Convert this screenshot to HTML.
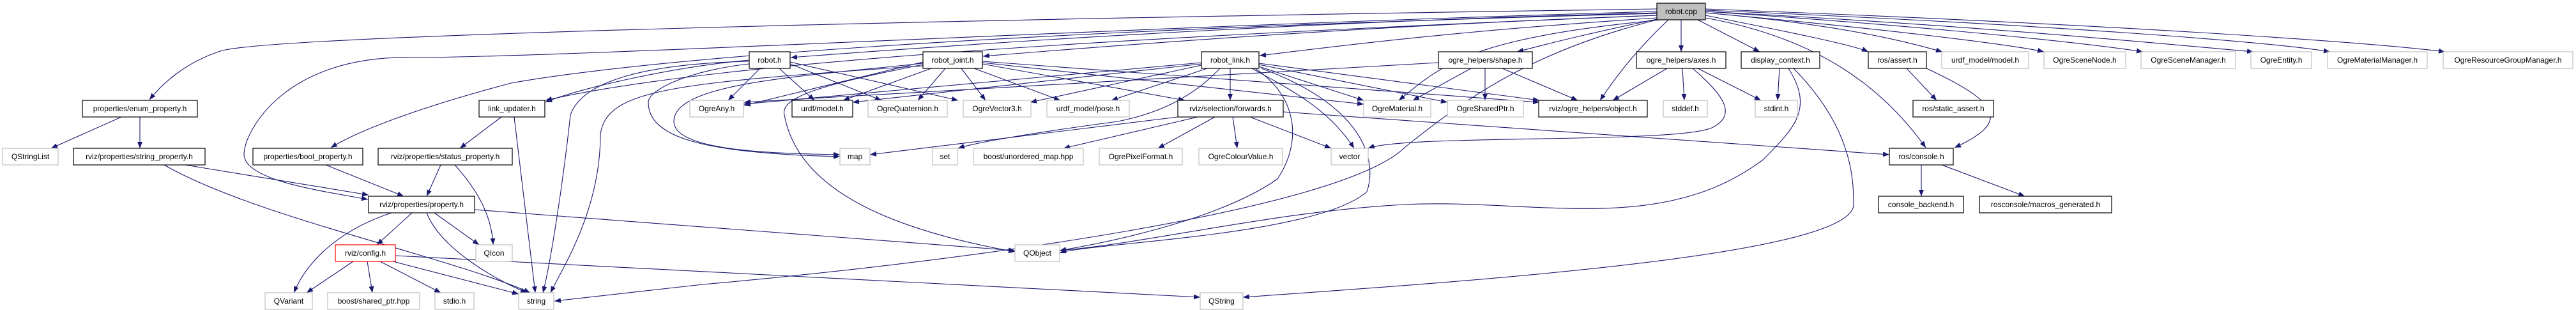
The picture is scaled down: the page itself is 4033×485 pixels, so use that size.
<!DOCTYPE html>
<html><head><meta charset="utf-8"><style>
html,body{margin:0;padding:0;background:#fff;width:4033px;height:485px;overflow:hidden}
svg{display:block}
text{font-family:"Liberation Sans",sans-serif;font-size:12px;fill:#000}
.b{fill:#fff;stroke:#000;stroke-width:1.2}
.g{fill:#fff;stroke:#bfbfbf;stroke-width:1.2}
.r{fill:#fff;stroke:#ff0000;stroke-width:1.2}
.e path{fill:none;stroke:#191970;stroke-width:1.1;marker-end:url(#a)}
</style></head><body>
<svg width="4033" height="485" viewBox="0 0 4033 485" xmlns="http://www.w3.org/2000/svg">
<defs><marker id="a" markerUnits="userSpaceOnUse" markerWidth="11" markerHeight="8" refX="10" refY="4" orient="auto"><path d="M0,0 L10,4 L0,8 z" fill="#191970"/></marker></defs>
<g class="e">
<!-- robot.cpp -->
<path d="M2594,14 C1500,30 420,55 345,80 C290,98 255,130 234,156"/>
<path d="M2594,18 C1800,40 900,90 640,90 C450,88 385,200 382,240 C380,282 500,298 576,312"/>
<path d="M2594,21 C1500,50 1000,95 800,130 C650,170 560,205 518,231"/>
<path d="M2594,24 C1700,60 1100,100 854,157"/>
<path d="M2594,20 C2000,35 1500,70 1238,90"/>
<path d="M2594,24 C2100,42 1700,75 1539,88"/>
<path d="M2594,28 C2250,50 2050,78 1972,87"/>
<path d="M2600,31 C2300,60 2260,100 2190,157"/>
<path d="M2594,30 C2450,60 2400,75 2375,81"/>
<path d="M2612,31 C2560,80 2530,120 2505,157"/>
<path d="M2632,31 L2632,81"/>
<path d="M2658,31 L2755,81"/>
<path d="M2670,24 C2800,50 2900,70 2925,81"/>
<path d="M2670,28 C2850,60 2950,140 3015,231"/>
<path d="M2670,20 C2900,40 3000,70 3041,81"/>
<path d="M2670,20 C2950,45 3150,70 3200,81"/>
<path d="M2670,18 C3000,40 3250,65 3355,81"/>
<path d="M2670,18 C3100,40 3400,70 3528,81"/>
<path d="M2670,16 C3200,38 3550,65 3648,81"/>
<path d="M2670,14 C3300,38 3700,65 3828,81"/>
<path d="M2594,31 C2400,80 2300,150 2200,230 C2100,330 1500,410 1100,445 C980,458 900,468 868,471"/>
<!-- property chain -->
<path d="M190,183 L80,232"/>
<path d="M219,183 L219,232"/>
<path d="M290,258 L577,305"/>
<path d="M257,258 C400,340 700,400 830,458"/>
<path d="M510,258 L632,307"/>
<path d="M690,258 L668,307"/>
<path d="M712,258 C750,300 770,340 772,383"/>
<path d="M785,183 L720,232"/>
<path d="M805,183 L838,458"/>
<path d="M613,333 C530,360 480,410 460,458"/>
<path d="M645,333 L590,383"/>
<path d="M668,333 C690,390 780,440 825,458"/>
<path d="M680,333 L750,383"/>
<path d="M743,328 L1589,392"/>
<path d="M553,409 L480,458"/>
<path d="M575,409 L583,458"/>
<path d="M595,409 L690,458"/>
<path d="M615,409 L812,460"/>
<path d="M619,400 L1879,465"/>
<!-- robot.h -->
<path d="M1190,107 L1140,157"/>
<path d="M1220,107 L1275,157"/>
<path d="M1237,100 L1380,157"/>
<path d="M1237,97 L1500,157"/>
<path d="M1173,100 C1080,110 1015,140 1015,160 C1015,215 1100,240 1315,245"/>
<path d="M1173,96 C1000,100 910,130 893,180 C880,300 860,420 850,458"/>
<path d="M1173,94 C1050,105 900,140 854,160"/>
<!-- robot_joint.h -->
<path d="M1445,97 L1165,165"/>
<path d="M1458,107 L1320,157"/>
<path d="M1480,107 L1437,157"/>
<path d="M1505,107 L1543,157"/>
<path d="M1525,107 L1660,157"/>
<path d="M1538,100 L1855,157"/>
<path d="M1538,98 L2135,163"/>
<path d="M1538,96 L2410,160"/>
<path d="M1445,99 C1250,120 1055,130 1055,190 C1055,235 1200,240 1315,242"/>
<path d="M1445,101 C1300,130 1220,150 1228,180 C1250,300 1400,360 1589,394"/>
<path d="M1445,103 C1050,130 950,140 940,210 C940,330 880,420 862,458"/>
<!-- robot_link.h -->
<path d="M1881,98 L1164,163"/>
<path d="M1881,100 L1335,160"/>
<path d="M1881,102 L1613,160"/>
<path d="M1890,107 L1740,157"/>
<path d="M1926,107 L1926,157"/>
<path d="M1971,104 L2135,157"/>
<path d="M1971,101 L2266,160"/>
<path d="M1971,99 L2410,157"/>
<path d="M1910,107 C1860,160 1800,180 1750,190 C1600,210 1520,225 1500,232"/>
<path d="M1960,107 C2020,140 2080,170 2120,232"/>
<path d="M1965,107 C2030,150 2040,220 2000,280 C1900,350 1700,385 1659,392"/>
<path d="M1975,107 C2120,160 2160,240 2140,300 C2060,370 1700,380 1659,396"/>
<!-- forwards.h -->
<path d="M1844,183 L1362,242"/>
<path d="M1875,183 L1665,232"/>
<path d="M1902,183 L1813,232"/>
<path d="M1930,183 L1937,232"/>
<path d="M1957,183 L2084,232"/>
<path d="M2009,175 L2958,242"/>
<!-- shape.h -->
<path d="M2252,98 L1165,160"/>
<path d="M2303,107 L2212,157"/>
<path d="M2325,107 L2325,157"/>
<path d="M2352,107 L2470,157"/>
<!-- axes.h -->
<path d="M2610,107 L2525,157"/>
<path d="M2634,107 L2637,157"/>
<path d="M2658,107 L2757,157"/>
<path d="M2650,107 C2700,150 2720,180 2680,200 C2620,225 2200,210 2142,232"/>
<!-- display_context.h -->
<path d="M2786,107 L2783,157"/>
<path d="M2800,107 C2840,170 2810,200 2760,250 C2600,370 2400,310 2200,320 C2000,330 1800,380 1659,392"/>
<path d="M2808,107 C2900,200 2902,280 2902,320 C2902,400 2300,440 1946,465"/>
<!-- ros/assert.h -->
<path d="M2985,107 L3032,157"/>
<path d="M3016,107 C3130,160 3150,190 3060,231"/>
<path d="M3008,258 L3008,307"/>
<path d="M3040,258 L3170,307"/>
</g>
<g>
<rect class="b" x="2594" y="5" width="76" height="26" style="fill:#bfbfbf"/><text x="2632" y="22" text-anchor="middle">robot.cpp</text>
<rect class="b" x="129" y="157" width="180" height="26"/><text x="219" y="174" text-anchor="middle">properties/enum_property.h</text>
<rect class="g" x="4" y="232" width="87" height="26"/><text x="47.5" y="249" text-anchor="middle">QStringList</text>
<rect class="b" x="115" y="232" width="206" height="26"/><text x="218" y="249" text-anchor="middle">rviz/properties/string_property.h</text>
<rect class="b" x="396" y="232" width="172" height="26"/><text x="482" y="249" text-anchor="middle">properties/bool_property.h</text>
<rect class="b" x="592" y="232" width="210" height="26"/><text x="697" y="249" text-anchor="middle">rviz/properties/status_property.h</text>
<rect class="b" x="750" y="157" width="103" height="26"/><text x="801.5" y="174" text-anchor="middle">link_updater.h</text>
<rect class="b" x="577" y="307" width="166" height="26"/><text x="660" y="324" text-anchor="middle">rviz/properties/property.h</text>
<rect class="r" x="525" y="383" width="94" height="26"/><text x="572" y="400" text-anchor="middle">rviz/config.h</text>
<rect class="g" x="745" y="383" width="57" height="26"/><text x="773.5" y="400" text-anchor="middle">QIcon</text>
<rect class="g" x="415" y="458" width="74" height="26"/><text x="452" y="475" text-anchor="middle">QVariant</text>
<rect class="g" x="513" y="458" width="144" height="26"/><text x="585" y="475" text-anchor="middle">boost/shared_ptr.hpp</text>
<rect class="g" x="681" y="458" width="61" height="26"/><text x="711.5" y="475" text-anchor="middle">stdio.h</text>
<rect class="g" x="812" y="458" width="55" height="26"/><text x="839.5" y="475" text-anchor="middle">string</text>
<rect class="b" x="1173" y="81" width="64" height="26"/><text x="1205" y="98" text-anchor="middle">robot.h</text>
<rect class="b" x="1445" y="81" width="93" height="26"/><text x="1491.5" y="98" text-anchor="middle">robot_joint.h</text>
<rect class="b" x="1881" y="81" width="90" height="26"/><text x="1926" y="98" text-anchor="middle">robot_link.h</text>
<rect class="g" x="1080" y="157" width="84" height="26"/><text x="1122" y="174" text-anchor="middle">OgreAny.h</text>
<rect class="b" x="1240" y="157" width="95" height="26"/><text x="1287.5" y="174" text-anchor="middle">urdf/model.h</text>
<rect class="g" x="1359" y="157" width="124" height="26"/><text x="1421" y="174" text-anchor="middle">OgreQuaternion.h</text>
<rect class="g" x="1508" y="157" width="106" height="26"/><text x="1561" y="174" text-anchor="middle">OgreVector3.h</text>
<rect class="g" x="1639" y="157" width="129" height="26"/><text x="1703.5" y="174" text-anchor="middle">urdf_model/pose.h</text>
<rect class="b" x="1844" y="157" width="165" height="26"/><text x="1926.5" y="174" text-anchor="middle">rviz/selection/forwards.h</text>
<rect class="g" x="1315" y="232" width="47" height="26"/><text x="1338.5" y="249" text-anchor="middle">map</text>
<rect class="g" x="1460" y="232" width="39" height="26"/><text x="1479.5" y="249" text-anchor="middle">set</text>
<rect class="g" x="1524" y="232" width="172" height="26"/><text x="1610" y="249" text-anchor="middle">boost/unordered_map.hpp</text>
<rect class="g" x="1721" y="232" width="130" height="26"/><text x="1786" y="249" text-anchor="middle">OgrePixelFormat.h</text>
<rect class="g" x="1877" y="232" width="131" height="26"/><text x="1942.5" y="249" text-anchor="middle">OgreColourValue.h</text>
<rect class="g" x="1589" y="383" width="70" height="26"/><text x="1624" y="400" text-anchor="middle">QObject</text>
<rect class="g" x="1879" y="458" width="67" height="26"/><text x="1912.5" y="475" text-anchor="middle">QString</text>
<rect class="b" x="2252" y="81" width="147" height="26"/><text x="2325.5" y="98" text-anchor="middle">ogre_helpers/shape.h</text>
<rect class="b" x="2562" y="81" width="140" height="26"/><text x="2632" y="98" text-anchor="middle">ogre_helpers/axes.h</text>
<rect class="b" x="2726" y="81" width="123" height="26"/><text x="2787.5" y="98" text-anchor="middle">display_context.h</text>
<rect class="b" x="2925" y="81" width="91" height="26"/><text x="2970.5" y="98" text-anchor="middle">ros/assert.h</text>
<rect class="g" x="2135" y="157" width="105" height="26"/><text x="2187.5" y="174" text-anchor="middle">OgreMaterial.h</text>
<rect class="g" x="2266" y="157" width="119" height="26"/><text x="2325.5" y="174" text-anchor="middle">OgreSharedPtr.h</text>
<rect class="b" x="2409" y="157" width="170" height="26"/><text x="2494" y="174" text-anchor="middle">rviz/ogre_helpers/object.h</text>
<rect class="g" x="2604" y="157" width="69" height="26"/><text x="2638.5" y="174" text-anchor="middle">stddef.h</text>
<rect class="g" x="2748" y="157" width="66" height="26"/><text x="2781" y="174" text-anchor="middle">stdint.h</text>
<rect class="g" x="2084" y="232" width="58" height="26"/><text x="2113" y="249" text-anchor="middle">vector</text>
<rect class="b" x="2995" y="157" width="126" height="26"/><text x="3058" y="174" text-anchor="middle">ros/static_assert.h</text>
<rect class="b" x="2958" y="232" width="100" height="26"/><text x="3008" y="249" text-anchor="middle">ros/console.h</text>
<rect class="b" x="2941" y="307" width="133" height="26"/><text x="3007.5" y="324" text-anchor="middle">console_backend.h</text>
<rect class="b" x="3099" y="307" width="207" height="26"/><text x="3202.5" y="324" text-anchor="middle">rosconsole/macros_generated.h</text>
<rect class="g" x="3040" y="81" width="136" height="26"/><text x="3108" y="98" text-anchor="middle">urdf_model/model.h</text>
<rect class="g" x="3200" y="81" width="128" height="26"/><text x="3264" y="98" text-anchor="middle">OgreSceneNode.h</text>
<rect class="g" x="3352" y="81" width="148" height="26"/><text x="3426" y="98" text-anchor="middle">OgreSceneManager.h</text>
<rect class="g" x="3524" y="81" width="95" height="26"/><text x="3571.5" y="98" text-anchor="middle">OgreEntity.h</text>
<rect class="g" x="3644" y="81" width="156" height="26"/><text x="3722" y="98" text-anchor="middle">OgreMaterialManager.h</text>
<rect class="g" x="3825" y="81" width="203" height="26"/><text x="3926.5" y="98" text-anchor="middle">OgreResourceGroupManager.h</text>
</g>
</svg>
</body></html>
